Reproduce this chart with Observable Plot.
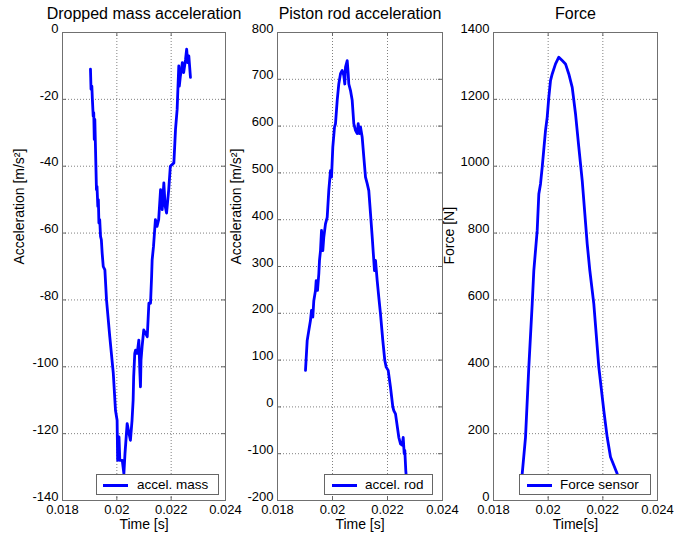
<!DOCTYPE html>
<html>
<head>
<meta charset="utf-8">
<script src="https://cdn.jsdelivr.net/npm/d3@7"></script>
<script src="https://cdn.jsdelivr.net/npm/@observablehq/plot@0.6"></script>
<style>
  html, body { margin: 0; padding: 0; background: #fff; }
  #root { position: relative; width: 675px; height: 542px; background: #fff; overflow: hidden;
          font-family: "Liberation Sans", Arial, sans-serif; }
  .panel { position: absolute; top: 0; }
  .legend { position: absolute; top: 474px; height: 21px; box-sizing: border-box; border: 1px solid #666;
            background: #fff; font-size: 13.5px; color: #000; }
  .legend .sw { position: absolute; top: 8.5px; width: 25px; height: 3px; background: #0000ff; }
  .legend .lb { position: absolute; top: 1.5px; white-space: nowrap; }
</style>
</head>
<body>
<div id="root"></div>
<script>
// ---- data ----
const xTicks = [0.018, 0.02, 0.022, 0.024];

const massTicks = [-140, -120, -100, -80, -60, -40, -20, 0];
const massTime = [0.01903, 0.01905, 0.01908, 0.01910, 0.01913, 0.01915, 0.01917, 0.01919, 0.01921, 0.01923,
  0.01925, 0.01927, 0.01930, 0.01932, 0.01934, 0.01937, 0.01940, 0.01943, 0.01946, 0.01950,
  0.01956, 0.01962, 0.01974, 0.01987, 0.01995, 0.02001, 0.02003, 0.02008, 0.02011, 0.02015,
  0.02020, 0.02023, 0.02026, 0.02030, 0.02038, 0.02045, 0.02050, 0.02056, 0.02060, 0.02062,
  0.02066, 0.02069, 0.02075, 0.02081, 0.02085, 0.02087, 0.02089, 0.02093, 0.02099, 0.02106,
  0.02112, 0.02118, 0.02124, 0.02128, 0.02130, 0.02135, 0.02142, 0.02148, 0.02154, 0.02161,
  0.02167, 0.02173, 0.02178, 0.02183, 0.02191, 0.02197, 0.02210, 0.02216, 0.02222, 0.02228,
  0.02230, 0.02234, 0.02238, 0.02241, 0.02246, 0.02253, 0.02257, 0.02261, 0.02265, 0.02271];
const massAccel = [-11, -17, -16, -20, -25, -24, -32, -26, -33, -40,
  -47, -46, -52, -50, -57, -56, -61, -62, -66, -70,
  -71, -80, -91, -102, -113, -116, -128, -121, -128, -128,
  -128, -130, -132, -126, -117, -120, -122, -116, -110, -103,
  -96, -95, -96, -92, -102, -106, -98, -94, -89, -90,
  -91, -81, -81, -73, -68, -64, -56, -58, -56, -47,
  -53, -45, -52, -54, -47, -40, -39, -29, -23, -10,
  -16, -13, -11, -9, -12, -8, -5, -9, -7, -13.4];

const rodTicks = [-200, -100, 0, 100, 200, 300, 400, 500, 600, 700, 800];
const rodTime = [0.019018, 0.019080, 0.019138, 0.019200, 0.019236, 0.019284, 0.019320, 0.019382, 0.019407, 0.019455,
  0.019502, 0.019527, 0.019564, 0.019600, 0.019647, 0.019684, 0.019745, 0.019807, 0.019865, 0.019927,
  0.019964, 0.020011, 0.020073, 0.020109, 0.020171, 0.020229, 0.020291, 0.020353, 0.020411, 0.020447,
  0.020473, 0.020535, 0.020571, 0.020593, 0.020655, 0.020716, 0.020775, 0.020836, 0.020898, 0.020935,
  0.020982, 0.021018, 0.021080, 0.021138, 0.021200, 0.021262, 0.021320, 0.021382, 0.021444, 0.021527,
  0.021564, 0.021625, 0.021684, 0.021745, 0.021829, 0.021902, 0.021953, 0.022025, 0.022109, 0.022193,
  0.022229, 0.022291, 0.022411, 0.022473, 0.022535, 0.022571, 0.022607, 0.022629, 0.022665, 0.022680];
const rodAccel = [78, 142, 163, 185, 206, 192, 227, 249, 270, 249,
  284, 313, 334, 377, 334, 363, 391, 405, 462, 505,
  491, 555, 598, 605, 655, 690, 712, 719, 708, 690,
  726, 740, 712, 690, 676, 655, 605, 591, 584, 605,
  584, 598, 576, 534, 491, 477, 462, 413, 363, 291,
  313, 270, 234, 199, 142, 99, 85, 78, 42, 0,
  -8, -15, -65, -79, -82, -65, -100, -93, -136, -147];

const forceTicks = [0, 200, 400, 600, 800, 1000, 1200, 1400];
const forceTime = [0.01902, 0.019050, 0.019171, 0.019292, 0.019416, 0.019475, 0.019599, 0.019658, 0.019720, 0.019782,
  0.019903, 0.019965, 0.020023, 0.020086, 0.020148, 0.020269, 0.020389, 0.020514, 0.020634, 0.020755,
  0.020880, 0.021000, 0.021121, 0.021246, 0.021341, 0.021428, 0.021524, 0.021670, 0.021853, 0.022036,
  0.022160, 0.022281, 0.022526, 0.02256];
const forceValue = [40, 80, 189, 399, 588, 688, 808, 917, 947, 997,
  1107, 1147, 1206, 1256, 1276, 1306, 1326, 1316, 1306, 1276,
  1236, 1157, 1057, 957, 858, 768, 688, 588, 399, 269,
  189, 130, 80, 70];

// ---- drawing ----
const root = document.getElementById("root");
const H = 542, MT = 32, MB = 42, ML = 62, MR = 5;
const gridStyle = {stroke: "#808080", strokeOpacity: 1, strokeWidth: 1, strokeDasharray: "1,2"};

function panel(cfg) {
  const fw = cfg.width - ML - MR, fh = H - MT - MB;
  const data = cfg.t.map((t, i) => ({t, v: cfg.v[i]}));
  const svg = Plot.plot({
    width: cfg.width, height: H,
    marginTop: MT, marginBottom: MB, marginLeft: ML, marginRight: MR,
    style: {fontFamily: "'Liberation Sans', Arial, sans-serif", fontSize: "13px", color: "#000",
            background: "transparent", overflow: "visible", maxWidth: "none"},
    x: {domain: [0.018, 0.024]},
    y: {domain: cfg.yDomain},
    marks: [
      Plot.gridX(xTicks, gridStyle),
      Plot.gridY(cfg.yTicks, gridStyle),
      Plot.tickX(xTicks, {x: d => d, insetTop: fh - 4, stroke: "#666"}),
      Plot.tickX(xTicks, {x: d => d, insetBottom: fh - 4, stroke: "#666"}),
      Plot.tickY(cfg.yTicks, {y: d => d, insetRight: fw - 4, stroke: "#666"}),
      Plot.tickY(cfg.yTicks, {y: d => d, insetLeft: fw - 4, stroke: "#666"}),
      Plot.frame({stroke: "#707070"}),
      Plot.line(data, {x: "t", y: "v", stroke: "#0000ff", strokeWidth: 2.8, strokeLinejoin: "round"}),
      Plot.axisX(xTicks, {tickSize: 0, tickPadding: 4, tickFormat: d => String(d), label: null, fontSize: 13}),
      Plot.axisY(cfg.yTicks, {tickSize: 0, tickPadding: 4, dy: -4, tickFormat: d => String(d), label: null, fontSize: 13}),
      Plot.text([cfg.title], {text: d => d, frameAnchor: "top", dy: -18.5, lineAnchor: "middle", fontSize: 16}),
      Plot.text([cfg.xlabel], {text: d => d, frameAnchor: "bottom", dy: 24, lineAnchor: "middle", fontSize: 14}),
      Plot.text([cfg.ylabel], {text: d => d, frameAnchor: "left", dx: cfg.labelDx, dy: -2, rotate: -90,
                               lineAnchor: "middle", fontSize: 14})
    ]
  });
  const wrap = document.createElement("div");
  wrap.className = "panel";
  wrap.style.left = cfg.left + "px";
  wrap.style.width = cfg.width + "px";
  wrap.appendChild(svg);
  root.appendChild(wrap);

  const lg = document.createElement("div");
  lg.className = "legend";
  lg.style.left = cfg.legend.left + "px";
  lg.style.width = cfg.legend.width + "px";
  lg.innerHTML = `<div class="sw" style="left:${cfg.legend.sw}px"></div><div class="lb" style="left:${cfg.legend.tx}px">${cfg.legend.text}</div>`;
  root.appendChild(lg);
}

panel({left: 0, width: 230, title: "Dropped mass acceleration", xlabel: "Time [s]", ylabel: "Acceleration [m/s²]",
       yDomain: [-140, 0], yTicks: massTicks, t: massTime, v: massAccel, labelDx: -43,
       legend: {left: 96, width: 123, sw: 6, tx: 40, text: "accel. mass"}});
panel({left: 215, width: 232, title: "Piston rod acceleration", xlabel: "Time [s]", ylabel: "Acceleration [m/s²]",
       yDomain: [-200, 800], yTicks: rodTicks, t: rodTime, v: rodAccel, labelDx: -41,
       legend: {left: 324, width: 109, sw: 7, tx: 40, text: "accel. rod"}});
panel({left: 431, width: 231, title: "Force", xlabel: "Time[s]", ylabel: "Force [N]",
       yDomain: [0, 1400], yTicks: forceTicks, t: forceTime, v: forceValue, labelDx: -44,
       legend: {left: 519, width: 132, sw: 7, tx: 40, text: "Force sensor"}});
</script>
</body>
</html>
